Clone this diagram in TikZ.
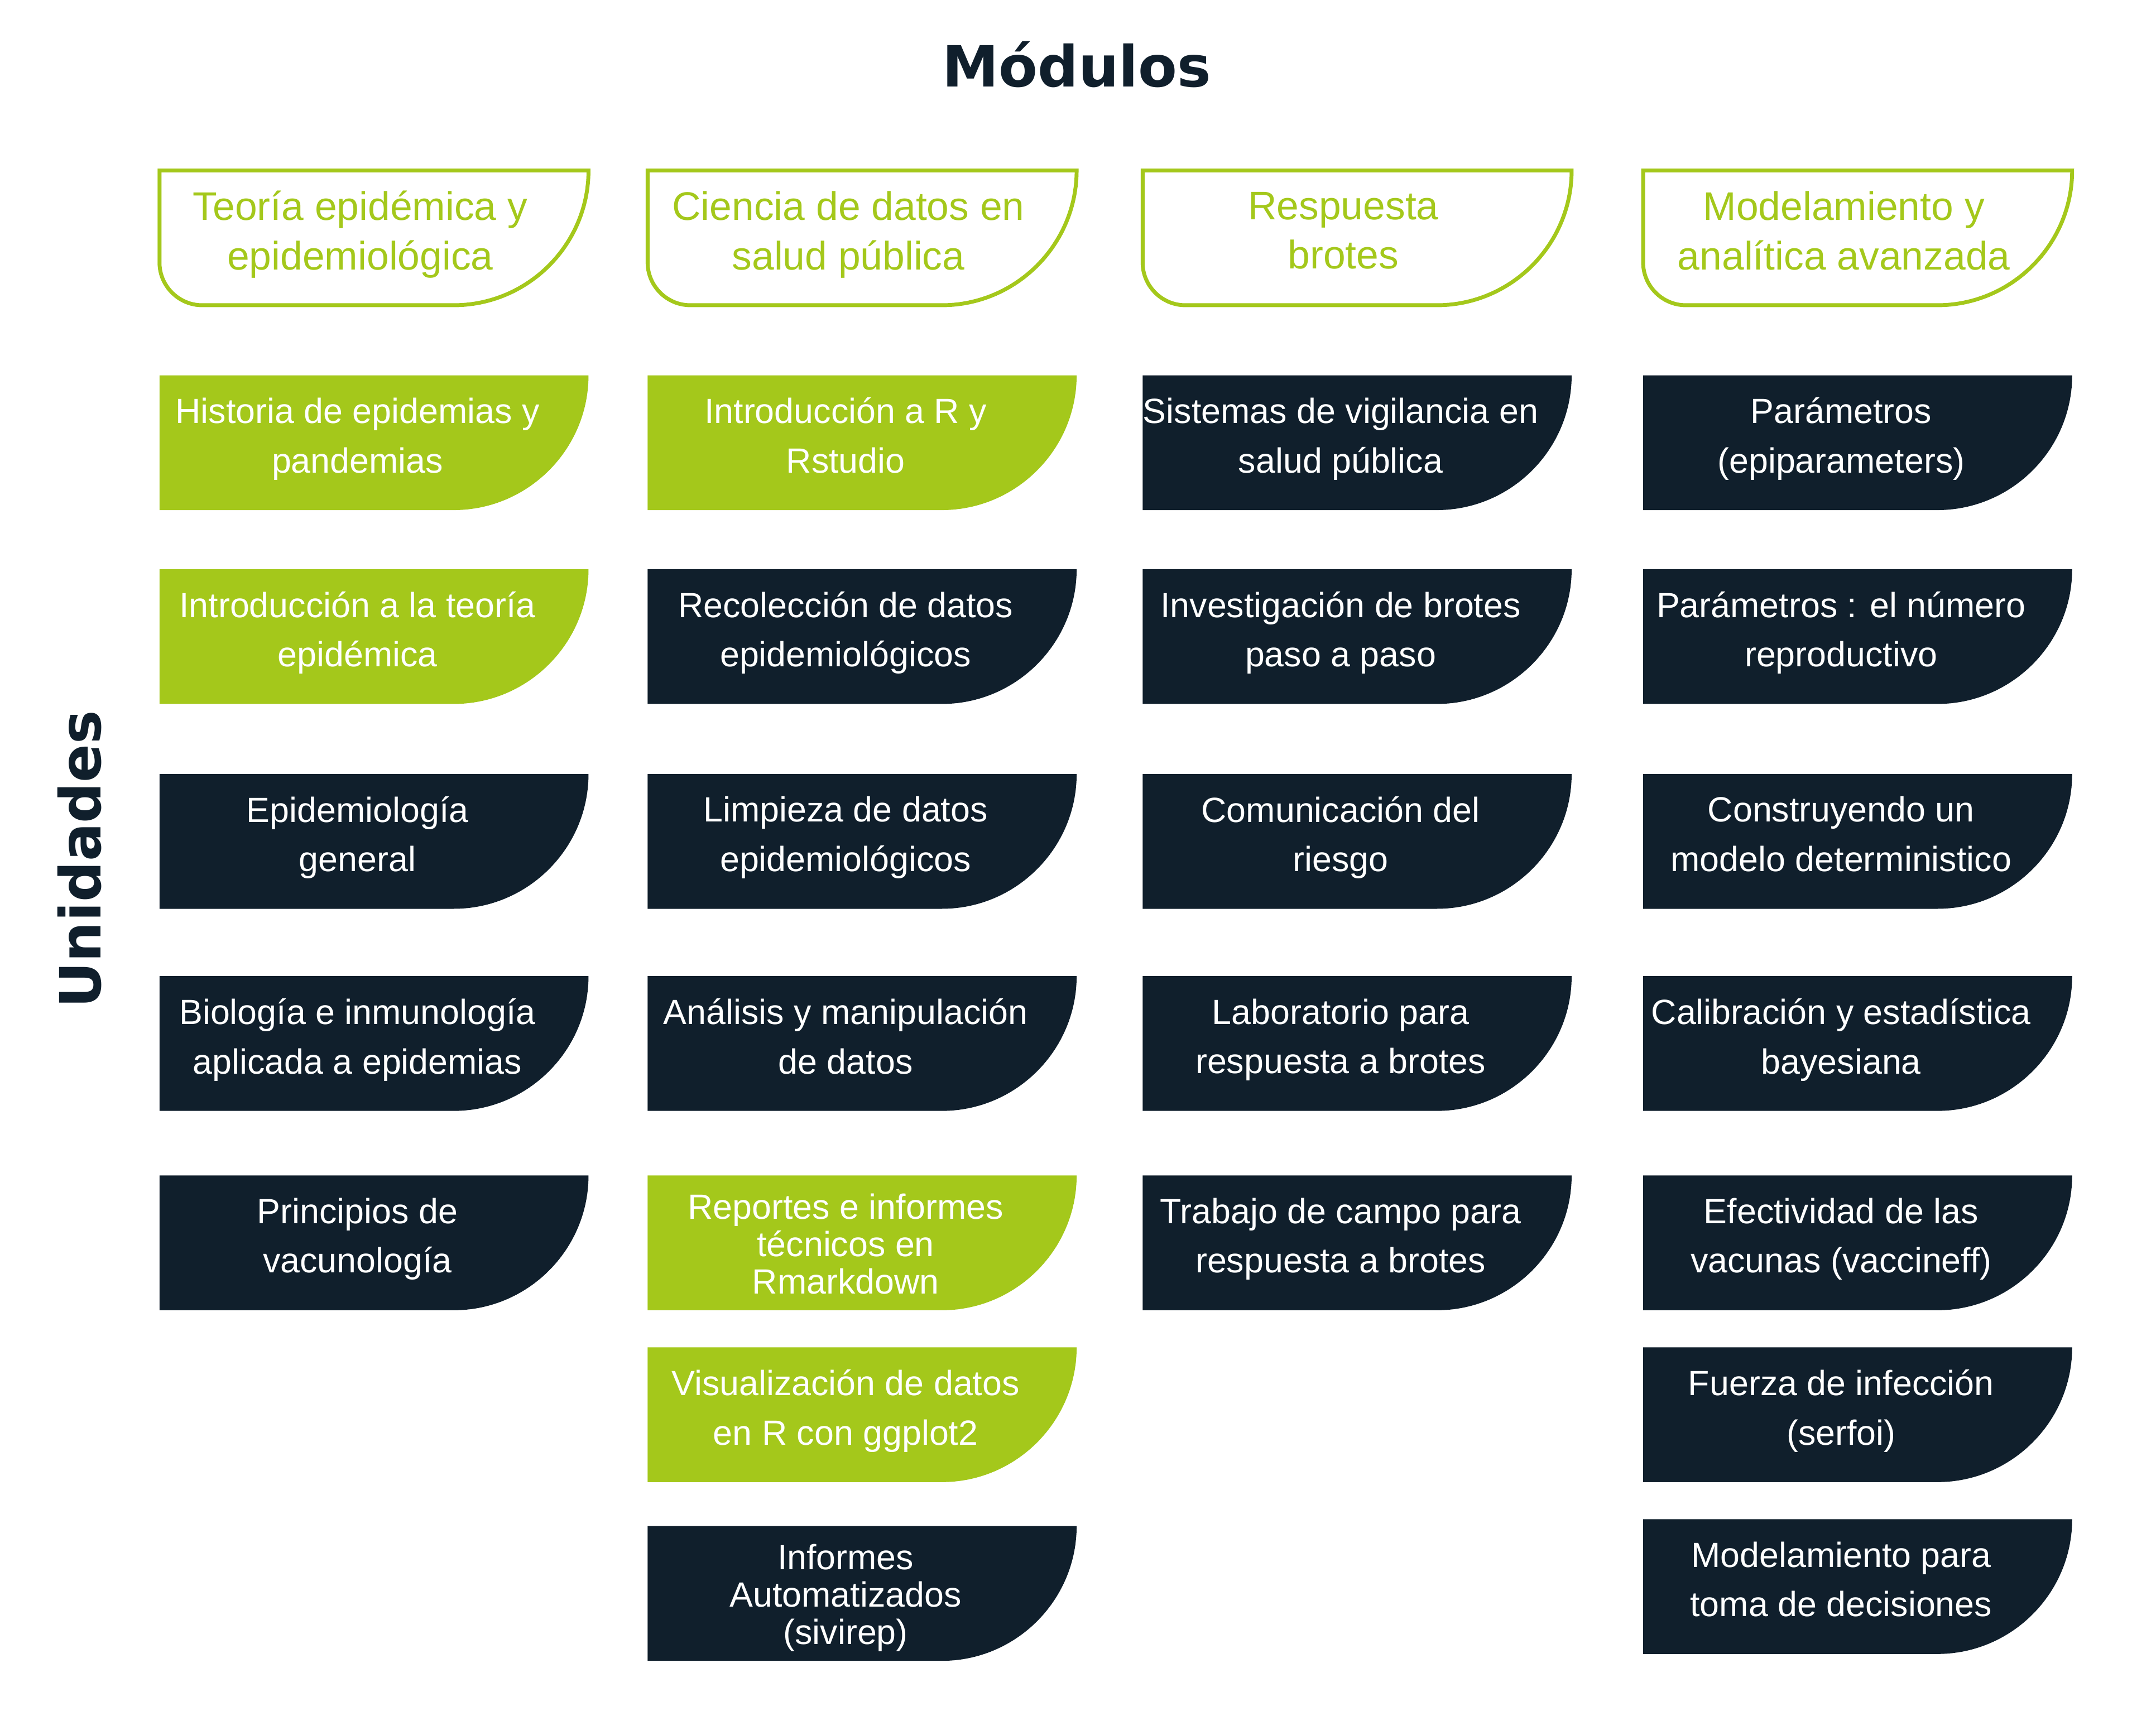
\documentclass[tikz,border=0pt]{standalone}
\usepackage{fontspec}
\setmainfont{Liberation Sans}
\newfontfamily\titulofont{DejaVu Sans}
\definecolor{verde}{HTML}{A4C81B}
\definecolor{marino}{HTML}{101F2C}

\begin{document}
\begin{tikzpicture}[x=0.02cm,y=-0.02cm,
    texto/.style={align=center,inner sep=0,text=white,
      font=\fontsize{14.5}{20.5}\selectfont,
      execute at begin node=\strut,execute at end node=\strut},
    texto3/.style={texto,yshift=-3.4pt},
    cabeza/.style={align=center,inner sep=0,text=verde,
      font=\fontsize{16.5}{20.5}\selectfont,
      execute at begin node=\strut,execute at end node=\strut},
    titulo/.style={text=marino,font=\titulofont\bfseries\fontsize{23.5}{28}\selectfont}]%
  \fill[white] (0,0) rectangle (1568,1248);
  \pgfmathsetmacro{\w}{312}
  \pgfmathsetmacro{\h}{98}
  \pgfmathsetmacro{\rx}{98}
  \node[titulo] (modulos) at (783,47) {Módulos};
  \node[titulo,rotate=90] (unidades) at (58,625) {Unidades};
  % modulos
  \foreach \n/\L/\txt in {1/116/{Teoría epidémica y\\epidemiológica},
      2/471/{Ciencia de datos en\\salud pública},
      3/831/{Respuesta\\brotes},
      4/1195/{Modelamiento y\\analítica avanzada}} {
    \draw[verde,line width=1.6pt] (\L,124) -- (\L+\w,124)
      .. controls (\L+\w,124+0.55*\h) and (\L+\w-0.45*\rx,124+\h) .. (\L+\w-\rx,124+\h)
      -- (\L+31,124+\h) .. controls (\L+14,124+\h) and (\L,124+\h-14) .. (\L,124+\h-31)
      -- cycle;
    \node[cabeza] (mod\n) at (\L+146,173) {\txt};
  }
  % unidades
  \foreach \n/\L/\T/\c/\s/\txt in {
      a1/116/273/verde/texto/{Historia de epidemias y\\pandemias},
      a2/116/414/verde/texto/{Introducción a la teoría\\epidémica},
      a3/116/563/marino/texto/{Epidemiología\\general},
      a4/116/710/marino/texto/{Biología e inmunología\\aplicada a epidemias},
      a5/116/855/marino/texto/{Principios de\\vacunología},
      b1/471/273/verde/texto/{Introducción a R y\\Rstudio},
      b2/471/414/marino/texto/{Recolección de datos\\epidemiológicos},
      b3/471/563/marino/texto/{Limpieza de datos\\epidemiológicos},
      b4/471/710/marino/texto/{Análisis y manipulación\\de datos},
      b5/471/855/verde/texto3/{Reportes e informes\\[-5pt]técnicos en\\[-5pt]Rmarkdown},
      b6/471/980/verde/texto/{Visualización de datos\\en R con ggplot2},
      b7/471/1110/marino/texto3/{Informes\\[-5pt]Automatizados\\[-5pt](sivirep)},
      c1/831/273/marino/texto/{Sistemas de vigilancia en\\salud pública},
      c2/831/414/marino/texto/{Investigación de brotes\\paso a paso},
      c3/831/563/marino/texto/{Comunicación del\\riesgo},
      c4/831/710/marino/texto/{Laboratorio para\\respuesta a brotes},
      c5/831/855/marino/texto/{Trabajo de campo para\\respuesta a brotes},
      d1/1195/273/marino/texto/{Parámetros\\(epiparameters)},
      d2/1195/414/marino/texto/{Parámetros : el número\\reproductivo},
      d3/1195/563/marino/texto/{Construyendo un\\modelo deterministico},
      d4/1195/710/marino/texto/{Calibración y estadística\\bayesiana},
      d5/1195/855/marino/texto/{Efectividad de las\\vacunas (vaccineff)},
      d6/1195/980/marino/texto/{Fuerza de infección\\(serfoi)},
      d7/1195/1105/marino/texto/{Modelamiento para\\toma de decisiones}} {
    \fill[\c] (\L,\T) -- (\L+\w,\T)
      .. controls (\L+\w,\T+0.55*\h) and (\L+\w-0.45*\rx,\T+\h) .. (\L+\w-\rx,\T+\h)
      -- (\L,\T+\h) -- cycle;
    \node[\s] (\n) at (\L+144,\T+49) {\txt};
  }
\end{tikzpicture}
\end{document}
